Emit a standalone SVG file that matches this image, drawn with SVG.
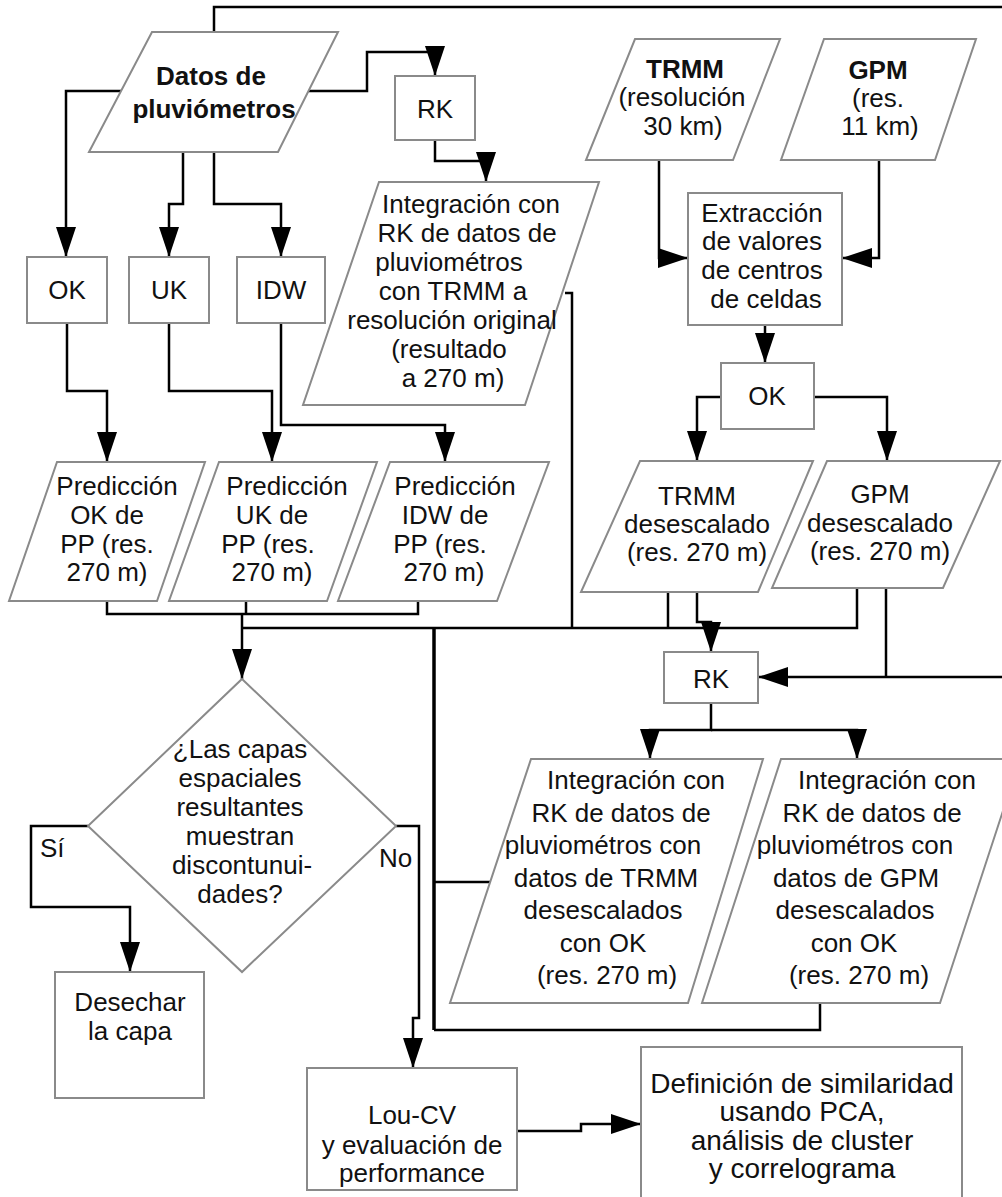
<svg xmlns="http://www.w3.org/2000/svg" width="1002" height="1197" viewBox="0 0 1002 1197">
<style>
.n{fill:#fff;stroke:#8a8a8a;stroke-width:2}
.c{fill:none;stroke:#000;stroke-width:2.5}
.a{marker-end:url(#ah)}
text{font-family:"Liberation Sans",Arial,sans-serif;font-size:26px;fill:#111;text-anchor:middle}
.b{font-weight:bold}
.s{text-anchor:start}
.L{font-size:28px}
</style>
<defs>
<marker id="ah" viewBox="0 0 30 20" refX="30" refY="10" markerWidth="30" markerHeight="20" markerUnits="userSpaceOnUse" orient="auto"><path d="M0,0 L30,10 L0,20 z" fill="#000"/></marker>
</defs>
<rect width="1002" height="1197" fill="#fff"/>
<g id="connectors">
<path class="c a" d="M121,91 H66 V257"/>
<path class="c a" d="M183,152 V204 H169 V257"/>
<path class="c a" d="M214,152 V204 H281 V257"/>
<path class="c a" d="M307,91 H367 V52 H435 V76"/>
<path class="c a" d="M214,32 V7 H1010 V677 H758"/>
<path class="c a" d="M435,140 V161 H486 V182"/>
<path class="c a" d="M67,323 V391 H107 V462"/>
<path class="c a" d="M169,323 V391 H272 V462"/>
<path class="c a" d="M281,323 V425 H445 V462"/>
<path class="c" d="M107,601 V614 H418 V601 M246,601 V614"/>
<path class="c a" d="M242,614 V679"/>
<path class="c" d="M242,628 H857 V588"/>
<path class="c" d="M565,293 H572 V628"/>
<path class="c" d="M668,592 V628"/>
<path class="c a" d="M659,160 V258 H688"/>
<path class="c a" d="M879,160 V258 H842"/>
<path class="c a" d="M765,325 V363"/>
<path class="c a" d="M721,397 H697 V461"/>
<path class="c a" d="M814,397 H887 V461"/>
<path class="c a" d="M697,592 V622 H711 V652"/>
<path class="c" d="M886,588 V677"/>
<path class="c a" d="M711,703 V730 H650 V759"/>
<path class="c a" d="M711,730 H857 V759"/>
<path class="c" style="stroke-width:3.5" d="M434,628 V1030"/>
<path class="c" d="M434,1030 H820 V1003 M434,882 H491"/>
<path class="c a" d="M88,826 H31 V907 H130 V972"/>
<path class="c a" d="M396,826 H419 V1018 H413 V1068"/>
<path class="c a" d="M517,1131 H581 V1124 H641"/>
</g>
<g id="datos">
<polygon class="n" points="152,32 338,32 278,152 89,152"/>
<text class="b" x="211" y="85">Datos de</text>
<text class="b" x="214" y="118">pluviómetros</text>
</g>
<g id="rk1">
<rect class="n" x="395" y="76" width="80" height="64"/>
<text x="435" y="118">RK</text>
</g>
<g id="ok1">
<rect class="n" x="27" y="257" width="80" height="66"/>
<text x="67" y="299">OK</text>
</g>
<g id="uk">
<rect class="n" x="129" y="257" width="80" height="66"/>
<text x="169" y="299">UK</text>
</g>
<g id="idw">
<rect class="n" x="237" y="257" width="88" height="66"/>
<text x="281" y="299">IDW</text>
</g>
<g id="int1">
<polygon class="n" points="379,182 599,182 525,405 303,405"/>
<text x="471" y="213">Integración con</text>
<text x="467" y="242">RK de datos de</text>
<text x="449" y="271">pluviométros</text>
<text x="453" y="300">con TRMM a</text>
<text x="452" y="329">resolución original</text>
<text x="449" y="358">(resultado</text>
<text x="453" y="387">a 270 m)</text>
</g>
<g id="trmm">
<polygon class="n" points="635,39 780,39 733,160 586,160"/>
<text class="b" x="685" y="78">TRMM</text>
<text x="682" y="106">(resolución</text>
<text x="683" y="135">30 km)</text>
</g>
<g id="gpm">
<polygon class="n" points="824,39 976,39 935,160 781,160"/>
<text class="b" x="878" y="79">GPM</text>
<text x="878" y="107">(res.</text>
<text x="880" y="135">11 km)</text>
</g>
<g id="extraccion">
<rect class="n" x="688" y="193" width="154" height="132"/>
<text x="762" y="222">Extracción</text>
<text x="762" y="250">de valores</text>
<text x="762" y="279">de centros</text>
<text x="766" y="308">de celdas</text>
</g>
<g id="ok2">
<rect class="n" x="721" y="363" width="93" height="66"/>
<text x="767" y="405">OK</text>
</g>
<g id="predok">
<polygon class="n" points="57,462 205,462 157,601 9,601"/>
<text x="117" y="495">Predicción</text>
<text x="107" y="524">OK de</text>
<text x="107" y="553">PP (res.</text>
<text x="107" y="581">270 m)</text>
</g>
<g id="preduk">
<polygon class="n" points="219,462 377,462 327,601 169,601"/>
<text x="287" y="495">Predicción</text>
<text x="272" y="524">UK de</text>
<text x="268" y="553">PP (res.</text>
<text x="272" y="581">270 m)</text>
</g>
<g id="predidw">
<polygon class="n" points="390,462 549,462 497,601 338,601"/>
<text x="455" y="495">Predicción</text>
<text x="445" y="524">IDW de</text>
<text x="440" y="553">PP (res.</text>
<text x="444" y="581">270 m)</text>
</g>
<g id="trmmdesc">
<polygon class="n" points="640,461 813,461 758,592 581,592"/>
<text x="697" y="505">TRMM</text>
<text x="697" y="533">desescalado</text>
<text x="697" y="561">(res. 270 m)</text>
</g>
<g id="gpmdesc">
<polygon class="n" points="827,461 1000,461 943,588 772,588"/>
<text x="880" y="503">GPM</text>
<text x="880" y="532">desescalado</text>
<text x="880" y="560">(res. 270 m)</text>
</g>
<g id="rk2">
<rect class="n" x="664" y="652" width="94" height="51"/>
<text x="711" y="688">RK</text>
</g>
<g id="decision">
<polygon class="n" points="242,679 396,826 242,972 88,826"/>
<text x="240" y="758">¿Las capas</text>
<text x="240" y="787">espaciales</text>
<text x="240" y="816">resultantes</text>
<text x="240" y="845">muestran</text>
<text x="242" y="874">discontunui-</text>
<text x="240" y="903">dades?</text>
<text class="s" x="40" y="857">Sí</text>
<text class="s" x="379" y="867">No</text>
</g>
<g id="desechar">
<rect class="n" x="55" y="972" width="149" height="126"/>
<text x="130" y="1011">Desechar</text>
<text x="130" y="1040">la capa</text>
</g>
<g id="int2">
<polygon class="n" points="531,759 763,759 688,1003 450,1003"/>
<text x="636" y="789">Integración con</text>
<text x="621" y="822">RK de datos de</text>
<text x="603" y="854">pluviométros con</text>
<text x="606" y="887">datos de TRMM</text>
<text x="603" y="919">desescalados</text>
<text x="603" y="952">con OK</text>
<text x="607" y="984">(res. 270 m)</text>
</g>
<g id="int3">
<polygon class="n" points="781,759 1020,759 940,1003 702,1003"/>
<text x="887" y="789">Integración con</text>
<text x="872" y="822">RK de datos de</text>
<text x="855" y="854">pluviométros con</text>
<text x="856" y="887">datos de GPM</text>
<text x="855" y="919">desescalados</text>
<text x="854" y="952">con OK</text>
<text x="859" y="984">(res. 270 m)</text>
</g>
<g id="loucv">
<rect class="n" x="307" y="1068" width="210" height="122"/>
<text x="412" y="1124">Lou-CV</text>
<text x="412" y="1154">y evaluación de</text>
<text x="412" y="1182">performance</text>
</g>
<g id="definicion">
<rect class="n" x="641" y="1047" width="321" height="160"/>
<text class="L" x="802" y="1093">Definición de similaridad</text>
<text class="L" x="802" y="1121">usando PCA,</text>
<text class="L" x="802" y="1150">análisis de cluster</text>
<text class="L" x="802" y="1178">y correlograma</text>
</g>
</svg>
